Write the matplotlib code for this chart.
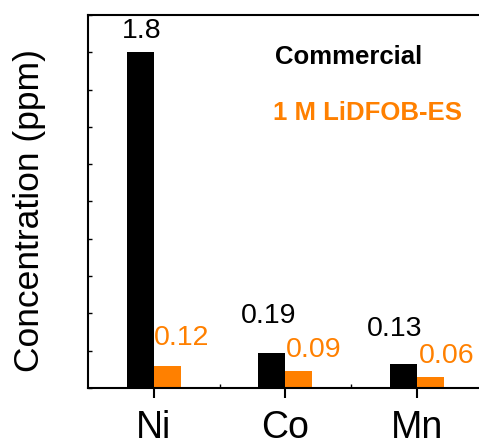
import matplotlib
matplotlib.use("Agg")
import matplotlib.pyplot as plt
import numpy as np
from matplotlib.ticker import MultipleLocator, FixedLocator

plt.rcParams["font.family"] = ["Liberation Sans", "DejaVu Sans"]

metals = ["Ni", "Co", "Mn"]
commercial = [1.8, 0.19, 0.13]
lidfob = [0.12, 0.09, 0.06]
commercial_labels = ["1.8", "0.19", "0.13"]
lidfob_labels = ["0.12", "0.09", "0.06"]

black = "#000000"
orange = "#FF8000"

fig = plt.figure(figsize=(4.79, 4.46), dpi=100)
ax = fig.add_axes([88 / 479, 58 / 446, 394.5 / 479, 373 / 446])

x = np.arange(len(metals))
w = 0.205
ax.bar(x - w / 2, commercial, width=w, color=black)
ax.bar(x + w / 2, lidfob, width=w, color=orange)

# value labels (offsets in pixels relative to bar top centre)
black_off = [(1.5, 14), (-3, 30), (-9, 28)]
orange_off = [(14, 21), (14.5, 14), (16.5, 14)]
for i in range(len(metals)):
    ax.annotate(commercial_labels[i], (x[i] - w / 2, commercial[i]),
                xytext=black_off[i], textcoords="offset pixels",
                ha="center", va="baseline", fontsize=20.5, color=black)
    ax.annotate(lidfob_labels[i], (x[i] + w / 2, lidfob[i]),
                xytext=orange_off[i], textcoords="offset pixels",
                ha="center", va="baseline", fontsize=20.5, color=orange)

ax.text(0.474, 0.887, "Commercial", transform=ax.transAxes, fontsize=18.5,
        fontweight="bold", color=black, ha="left", va="center")
ax.text(0.469, 0.737, "1 M LiDFOB-ES", transform=ax.transAxes, fontsize=18.5,
        fontweight="bold", color=orange, ha="left", va="center")

ax.set_xlim(-0.5, 2.5)
ax.set_ylim(0, 2.0)
ax.set_xticks(x)
ax.set_xticklabels(metals, fontsize=27)
ax.xaxis.set_minor_locator(FixedLocator([0.5, 1.5]))
ax.yaxis.set_major_locator(MultipleLocator(0.2))
ax.set_yticklabels([])
ax.tick_params(axis="x", which="major", direction="out", length=7, width=1.5, pad=9)
ax.tick_params(axis="x", which="minor", direction="in", length=3, width=1)
ax.tick_params(axis="y", which="major", direction="in", length=3, width=1)
ax.set_ylabel("Concentration (ppm)", fontsize=25.5)
ax.yaxis.set_label_coords(-0.107, 0.475)

for s in ["left", "bottom", "top", "right"]:
    ax.spines[s].set_linewidth(1.5)

fig.savefig("out.png", dpi=100)
